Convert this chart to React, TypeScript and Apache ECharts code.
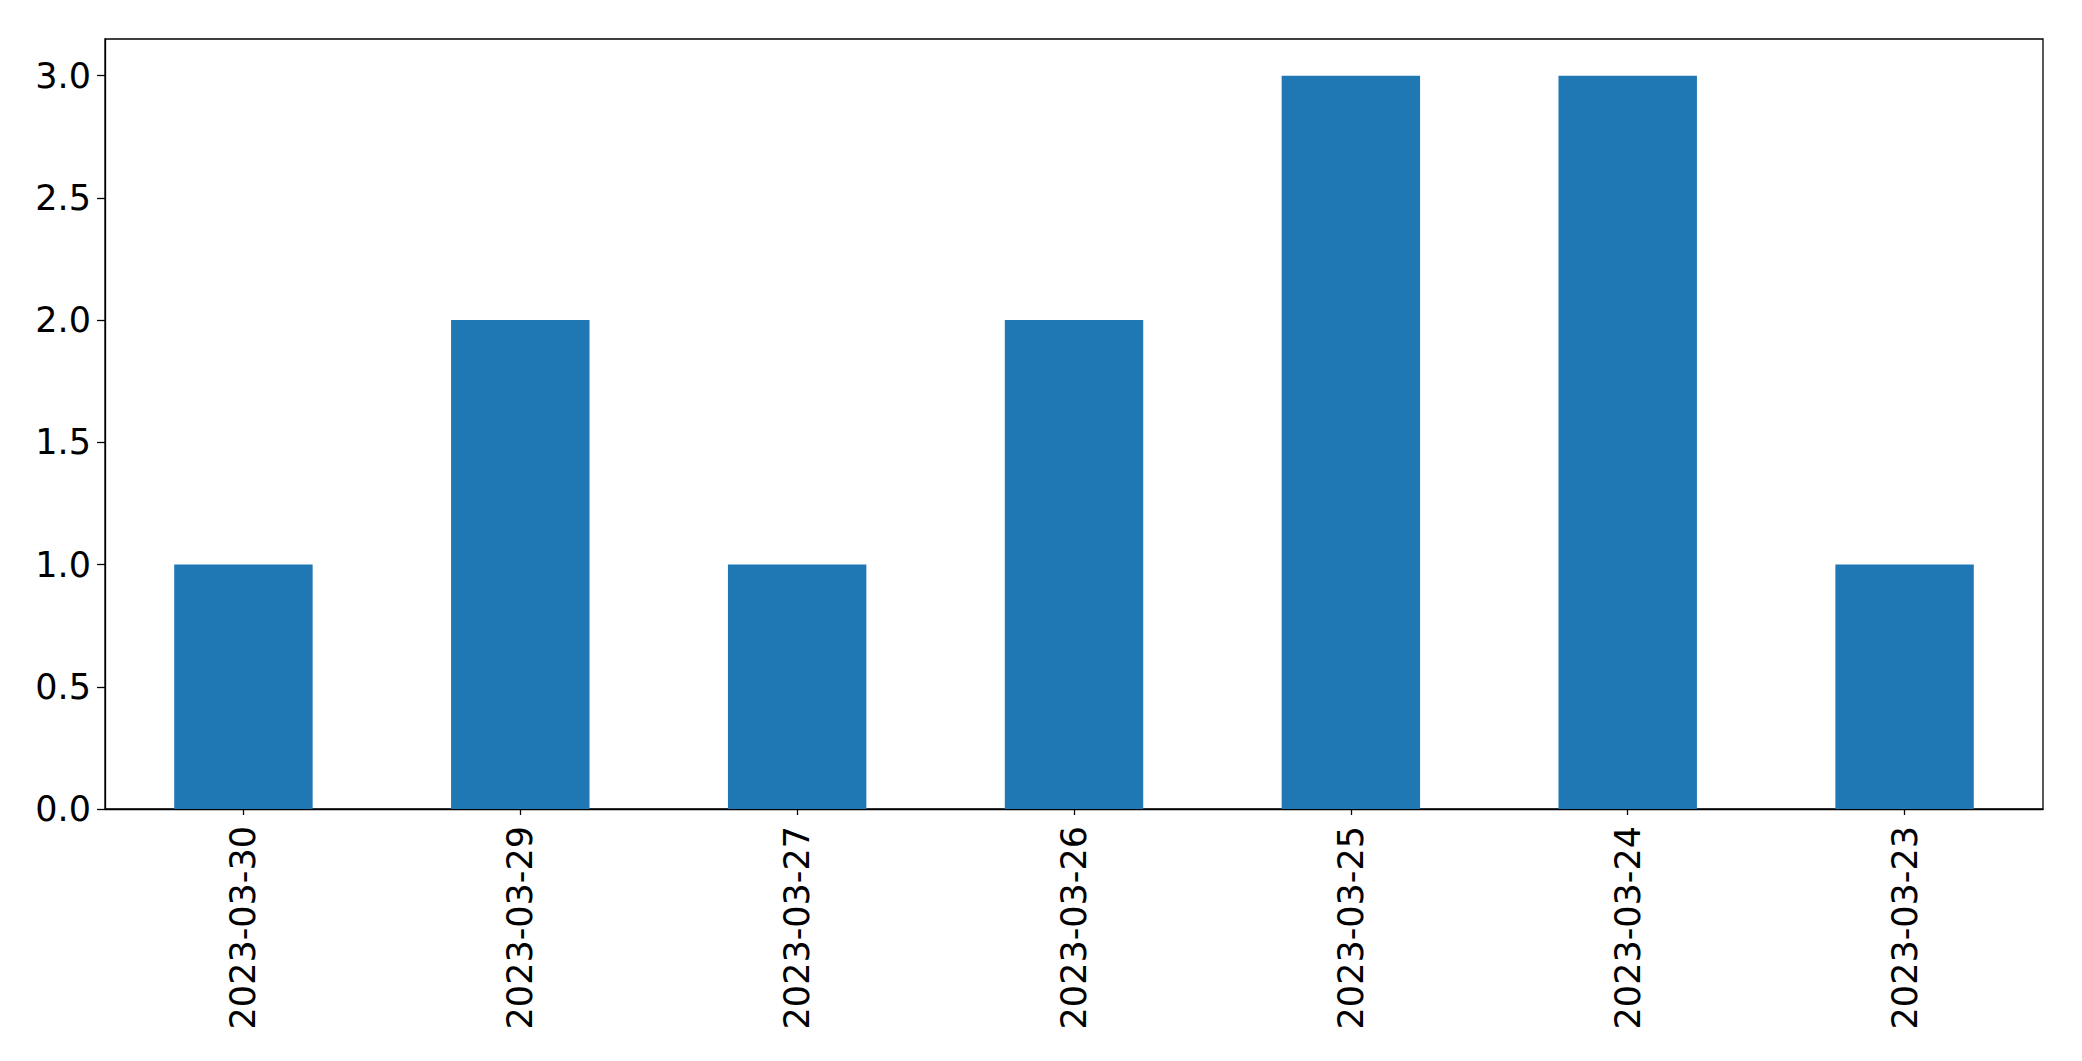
import React, { useEffect, useRef } from "react";
import * as echarts from "echarts";

const categories = [
  "2023-03-30",
  "2023-03-29",
  "2023-03-27",
  "2023-03-26",
  "2023-03-25",
  "2023-03-24",
  "2023-03-23",
];
const counts = [1, 2, 1, 2, 3, 3, 1];
const yTicks = [0, 0.5, 1, 1.5, 2, 2.5, 3];

export default function App() {
  const ref = useRef<HTMLDivElement>(null);
  useEffect(() => {
    if (!ref.current) return;
    const chart = echarts.init(ref.current, null, { renderer: "svg" });
    const font = "DejaVu Sans";
    chart.setOption({
      animation: false,
      backgroundColor: "#ffffff",
      grid: {
        left: 105,
        top: 39,
        right: 39,
        bottom: 252,
        show: true,
        borderColor: "#000000",
        borderWidth: 1.3,
        containLabel: false,
      },
      xAxis: {
        type: "category",
        data: categories,
        boundaryGap: true,
        axisLine: { show: true, lineStyle: { color: "#000000", width: 1.3 } },
        axisTick: {
          show: true,
          alignWithLabel: true,
          length: 6,
          lineStyle: { color: "#000000", width: 1.3 },
        },
        axisLabel: {
          rotate: 90,
          margin: 17,
          fontSize: 35,
          fontFamily: font,
          color: "#000000",
          interval: 0,
        },
        splitLine: { show: false },
      },
      yAxis: {
        type: "value",
        min: 0,
        max: 3.15,
        interval: 0.5,
        axisLine: { show: true, lineStyle: { color: "#000000", width: 1.3 } },
        axisTick: {
          show: true,
          length: 8,
          customValues: yTicks,
          lineStyle: { color: "#000000", width: 1.3 },
        },
        axisLabel: {
          margin: 14,
          fontSize: 35,
          fontFamily: font,
          color: "#000000",
          customValues: yTicks,
          formatter: (v: number) => v.toFixed(1),
        },
        splitLine: { show: false },
      },
      series: [
        {
          type: "bar",
          data: counts,
          barWidth: "50%",
          itemStyle: { color: "#1f77b4" },
        },
      ],
    });
    return () => chart.dispose();
  }, []);
  return (
    <div
      ref={ref}
      style={{ position: "fixed", left: 0, top: 0, width: 2082, height: 1061 }}
    />
  );
}
